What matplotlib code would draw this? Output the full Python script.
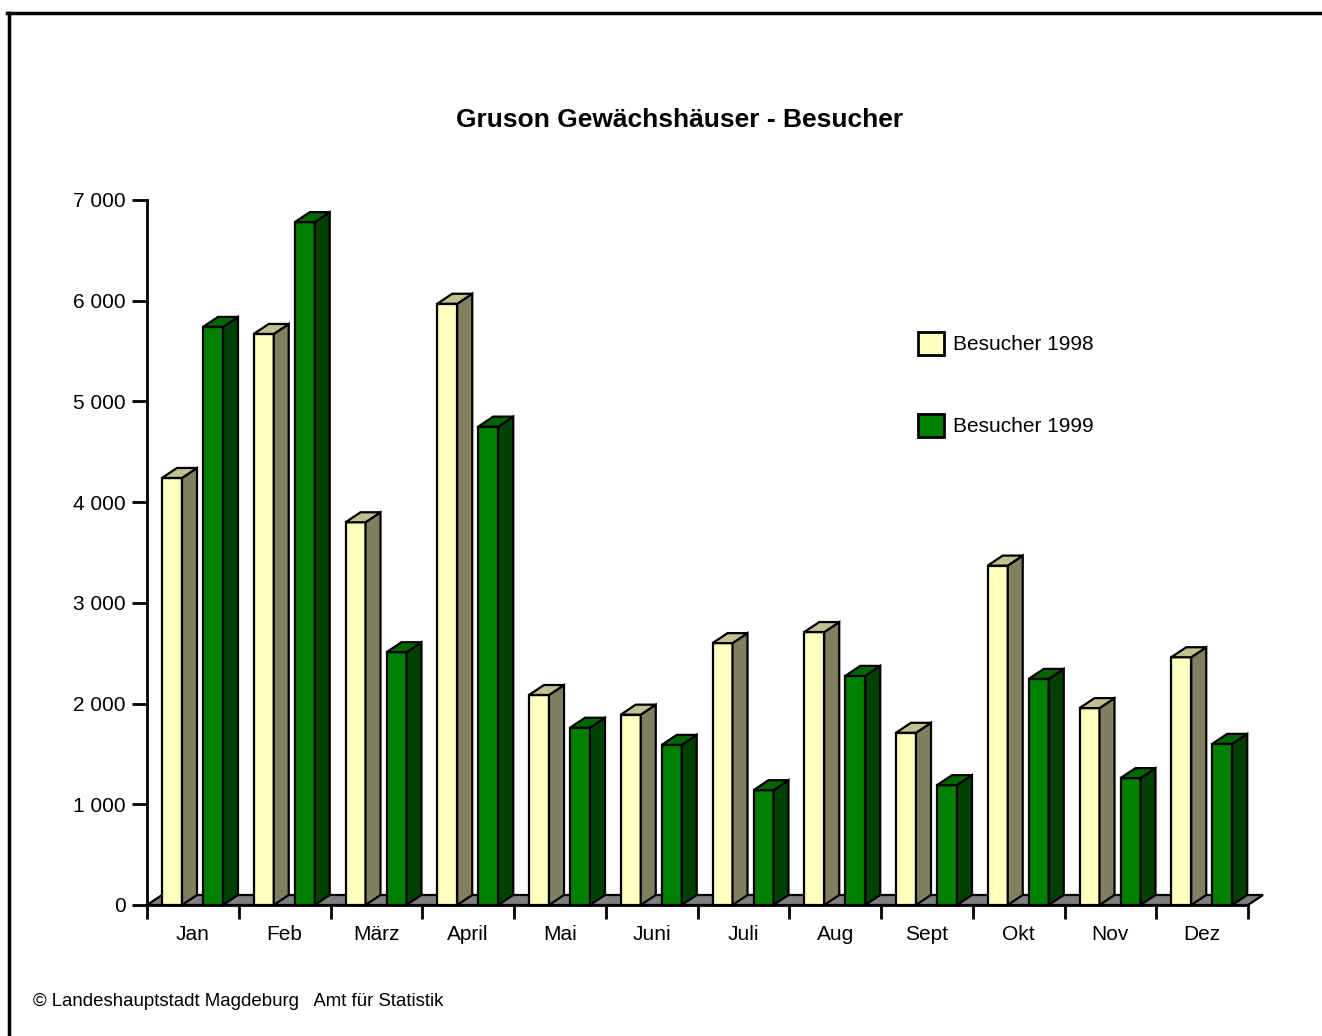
import matplotlib
matplotlib.use("Agg")
import matplotlib.pyplot as plt
from matplotlib.patches import Polygon
from matplotlib.lines import Line2D
import numpy as np

plt.rcParams['font.family'] = ['Liberation Sans', 'DejaVu Sans']

months = ["Jan", "Feb", "März", "April", "Mai", "Juni", "Juli", "Aug",
          "Sept", "Okt", "Nov", "Dez"]
besucher_1998 = [4240, 5670, 3800, 5970, 2085, 1890, 2600, 2710, 1710, 3370, 1955, 2460]
besucher_1999 = [5740, 6780, 2510, 4750, 1760, 1590, 1140, 2275, 1190, 2245, 1260, 1600]
yticks = [0, 1000, 2000, 3000, 4000, 5000, 6000, 7000]

# colours: front, side, top
col_98 = ("#FFFFC0", "#808060", "#C0C090")
col_99 = ("#008000", "#004000", "#006600")

W, H = 1322, 1036
fig = plt.figure(figsize=(W / 100, H / 100), dpi=100)
ax = fig.add_axes([147 / W, (H - 905) / H, (1248 - 147) / W, (905 - 200) / H])
ax.set_xlim(0, 12)
ax.set_ylim(0, 7000)

# depth offset in data units (about 15 px right, 10 px up)
px_x = (1248 - 147) / 12
px_y = (905 - 200) / 7000
dx = 15 / px_x
dy = 10 / px_y
bw = 20 / px_x
off98 = 15 / px_x
off99 = 56 / px_x


def poly(pts, fc, z):
    ax.add_patch(Polygon(pts, closed=True, facecolor=fc, edgecolor="black",
                         linewidth=1.6, joinstyle="miter", clip_on=False, zorder=z))


# floor
poly([(0, 0), (12, 0), (12 + dx, dy), (dx, dy)], "#808080", 2)


def bar3d(x0, h, cols):
    front, side, top = cols
    poly([(x0, 0), (x0 + bw, 0), (x0 + bw, h), (x0, h)], front, 3)
    poly([(x0 + bw, 0), (x0 + bw + dx, dy), (x0 + bw + dx, h + dy), (x0 + bw, h)], side, 3)
    poly([(x0, h), (x0 + bw, h), (x0 + bw + dx, h + dy), (x0 + dx, h + dy)], top, 3)


for i in range(12):
    bar3d(i + off98, besucher_1998[i], col_98)
    bar3d(i + off99, besucher_1999[i], col_99)

for s in ["top", "right"]:
    ax.spines[s].set_visible(False)
for s in ["left", "bottom"]:
    ax.spines[s].set_linewidth(2)
    ax.spines[s].set_zorder(4)

ax.set_yticks(yticks)
ax.set_yticklabels([f"{v:,}".replace(",", " ") for v in yticks], fontsize=15)
ax.set_xticks(np.arange(0, 13))
ax.set_xticklabels([])
ax.set_xticks(np.arange(12) + 0.5, minor=True)
ax.set_xticklabels(months, minor=True, fontsize=15)
ax.tick_params(axis="x", which="major", length=10, width=2, direction="out")
ax.tick_params(axis="x", which="minor", length=0, pad=14.5)
ax.tick_params(axis="y", length=11, width=2, pad=4.5)

ax.set_title("Gruson Gewächshäuser - Besucher", fontsize=19, fontweight="bold",
             pad=0, x=(680 - 147) / (1248 - 147), y=1.1035)

handles = [
    Polygon([(0, 0)], facecolor=col_98[0], edgecolor="black", linewidth=2),
    Polygon([(0, 0)], facecolor=col_99[0], edgecolor="black", linewidth=2),
]
leg = ax.legend(handles, ["Besucher 1998", "Besucher 1999"], loc="upper left",
                bbox_to_anchor=((918 - 147) / (1248 - 147), (905 - 332) / 705),
                frameon=False, fontsize=15, handlelength=1.25, handleheight=1.3,
                labelspacing=2.85, handletextpad=0.45, borderpad=0,
                borderaxespad=0)

fig.text(33 / W, 1 - 1001 / H, "© Landeshauptstadt Magdeburg   Amt für Statistik",
         fontsize=13.4, va="center", ha="left")

# frame of the page (top and left only)
fig.add_artist(Line2D([8.5 / W, 8.5 / W], [0, 1 - 12.5 / H], color="black",
                      linewidth=2.5, transform=fig.transFigure))
fig.add_artist(Line2D([7 / W, 1], [1 - 12.5 / H, 1 - 12.5 / H], color="black",
                      linewidth=2.5, transform=fig.transFigure))

fig.savefig("out.png", dpi=100)
